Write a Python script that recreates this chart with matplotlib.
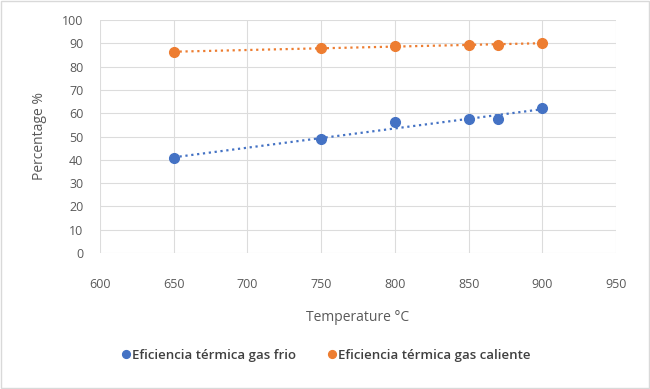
import matplotlib.pyplot as plt
import numpy as np
from matplotlib.patches import Rectangle

# Datos
temperatura = [650, 750, 800, 850, 870, 900]
ef_frio = [40.6, 48.8, 56.1, 57.4, 57.3, 62.2]
ef_caliente = [86.3, 87.9, 88.8, 89.4, 89.3, 90.1]

azul = '#4472C4'
naranja = '#ED7D31'
gris = '#595959'

plt.rcParams['font.family'] = ['Open Sans', 'DejaVu Sans']

fig = plt.figure(figsize=(6.5, 3.89), dpi=100)
ax = fig.add_axes([100 / 650, 1 - 253 / 389, 516 / 650, 233 / 389])

for y, color, label in [(ef_frio, azul, 'Eficiencia térmica gas frio'),
                        (ef_caliente, naranja, 'Eficiencia térmica gas caliente')]:
    ax.plot(temperatura, y, 'o', color=color, markersize=7, label=label, zorder=3)
    # linea de tendencia lineal (como en Excel)
    m, b = np.polyfit(temperatura, y, 1)
    xt = np.array([min(temperatura), max(temperatura)])
    ax.plot(xt, m * xt + b, ':', color=color, linewidth=1.6, zorder=2)

ax.set_xlim(600, 950)
ax.set_ylim(0, 100)
ax.set_xticks(range(600, 951, 50))
ax.set_yticks(range(0, 101, 10))
ax.grid(True, color='#DCDCDC', linewidth=0.8)
ax.set_axisbelow(True)
for s in ax.spines.values():
    s.set_visible(False)
ax.tick_params(length=0, colors=gris, labelsize=9)
ax.tick_params(axis='x', pad=18)
ax.tick_params(axis='y', pad=12)

ax.set_xlabel('Temperature °C', color=gris, fontsize=10, labelpad=14)
ax.set_ylabel('Percentage %', color=gris, fontsize=10, labelpad=11)

leg = fig.legend(loc='center', bbox_to_anchor=(0.5, 1 - 355 / 389), ncol=2,
                 frameon=False, fontsize=9.5, handletextpad=0.0, handlelength=1.0,
                 columnspacing=2.2, markerscale=0.8)
for t in leg.get_texts():
    t.set_color('#404040')
    t.set_fontweight('semibold')

fig.patches.append(Rectangle((0.002, 0.003), 0.996, 0.994, transform=fig.transFigure,
                             fill=False, edgecolor='#D9D9D9', linewidth=1))

plt.savefig('out.png', dpi=100)
